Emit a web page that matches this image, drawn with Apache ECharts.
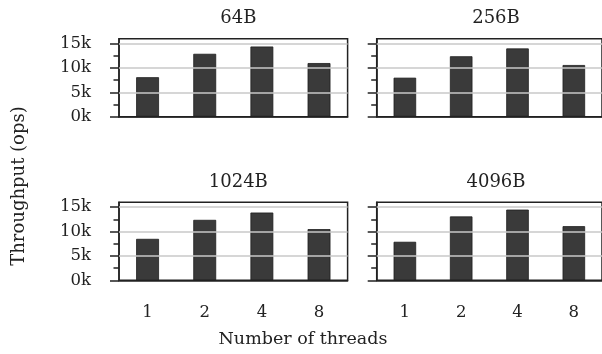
<!DOCTYPE html>
<html>
<head>
<meta charset="utf-8">
<script src="https://cdn.jsdelivr.net/npm/echarts@6/dist/echarts.min.js"></script>
<style>
  html, body { margin: 0; padding: 0; background: #fff; }
  #chart { width: 602px; height: 354px; }
</style>
</head>
<body>
<div id="chart"></div>
<script>
// 数据
var threads = ['1', '2', '4', '8'];
var sizes = ['64B', '256B', '1024B', '4096B'];
var tput64 = [8100, 12900, 14400, 11000];
var tput256 = [8000, 12400, 14000, 10600];
var tput1024 = [8500, 12400, 13900, 10500];
var tput4096 = [7900, 13100, 14500, 11100];
var yMajor = [0, 5000, 10000, 15000];
var yMinor = [2500, 7500, 12500];

var allData = [tput64, tput256, tput1024, tput4096];

var font = 'DejaVu Serif';
var ink = '#222';

// 每个子图的位置
var boxes = [
  { left: 119, top: 38.7 },
  { left: 376.7, top: 38.7 },
  { left: 119, top: 202.3 },
  { left: 376.7, top: 202.3 }
];
var boxW = 228.6, boxH = 78;

var grids = [], xAxes = [], yAxes = [], series = [], titles = [];

boxes.forEach(function (b, i) {
  grids.push({
    left: b.left, top: b.top, width: boxW, height: boxH,
    show: true, borderColor: ink, borderWidth: 1.5, backgroundColor: 'transparent'
  });
  titles.push({
    text: sizes[i],
    left: b.left + boxW / 2,
    top: b.top - 34,
    textAlign: 'center',
    textStyle: { fontFamily: font, fontWeight: 'normal', fontSize: 18, color: ink }
  });
  xAxes.push({
    type: 'category',
    gridIndex: i,
    data: threads,
    axisLine: { lineStyle: { color: ink, width: 1.5 } },
    axisTick: { alignWithLabel: true, length: 9, lineStyle: { color: ink, width: 1.5 } },
    axisLabel: { show: i >= 2, margin: 23.5, fontFamily: font, fontSize: 16.5, color: ink },
    splitLine: { show: false }
  });
  // 主刻度
  yAxes.push({
    type: 'value',
    gridIndex: i,
    min: 0, max: 16000,
    axisLine: { show: true, lineStyle: { color: ink, width: 1.5 } },
    axisTick: { show: true, length: 9, customValues: yMajor, lineStyle: { color: ink, width: 1.5 } },
    axisLabel: {
      show: i % 2 == 0,
      customValues: yMajor,
      margin: 28,
      fontFamily: font, fontSize: 16.5, color: ink,
      formatter: function (v) { return (v / 1000) + 'k'; }
    },
    splitLine: { show: false }
  });
  series.push({
    type: 'bar',
    xAxisIndex: i,
    yAxisIndex: i * 2,
    data: allData[i],
    barWidth: '40%',
    itemStyle: { color: '#3a3a3a', borderColor: '#1e1e1e', borderWidth: 0.8 },
    silent: true
  });
  // 次刻度
  yAxes.push({
    type: 'value',
    gridIndex: i,
    min: 0, max: 16000,
    position: 'left',
    axisLine: { show: false },
    axisTick: { show: true, length: 5.5, customValues: yMinor, lineStyle: { color: ink, width: 1.5 } },
    axisLabel: { show: false },
    splitLine: { show: false }
  });
});

// 网格线单独画
boxes.forEach(function (b, i) {
  series.push({
    type: 'line',
    xAxisIndex: i,
    yAxisIndex: i * 2,
    data: [],
    silent: true,
    z: 0,
    markLine: {
      silent: true,
      symbol: 'none',
      label: { show: false },
      lineStyle: { color: '#c8c8c8', width: 1.5, type: 'solid' },
      data: yMajor.slice(1).map(function (v) { return { yAxis: v }; })
    }
  });
});

var chart = echarts.init(document.getElementById('chart'));
chart.setOption({
  animation: false,
  title: titles,
  grid: grids,
  xAxis: xAxes,
  yAxis: yAxes,
  series: series,
  graphic: [
    {
      type: 'text',
      x: 19, y: 186,
      rotation: Math.PI / 2,
      style: {
        text: 'Throughput (ops)', fontFamily: font, fontSize: 18, fill: ink,
        align: 'center', verticalAlign: 'middle'
      }
    },
    {
      type: 'text',
      x: 303, y: 339,
      style: {
        text: 'Number of threads', fontFamily: font, fontSize: 17.5, fill: ink,
        align: 'center', verticalAlign: 'middle'
      }
    }
  ]
});
</script>
</body>
</html>
